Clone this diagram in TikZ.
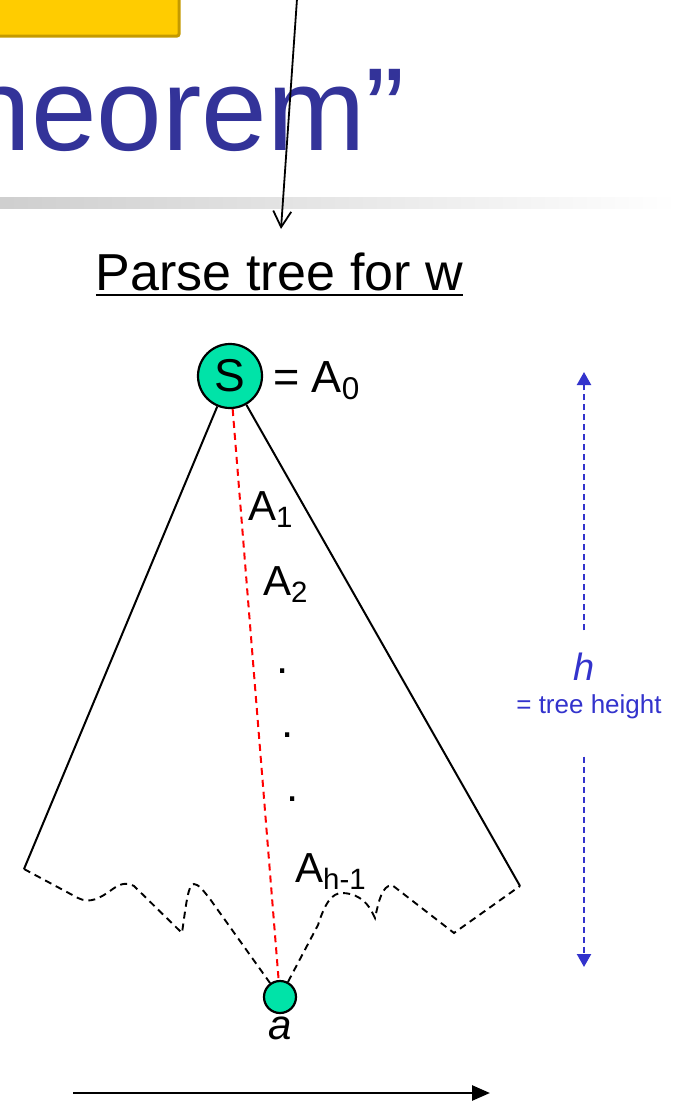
\documentclass[tikz,border=0pt]{standalone}
\usepackage{fontspec}
\setmainfont{Liberation Sans}
\usepackage{tikz}
\usetikzlibrary{arrows.meta,positioning,calc}
\definecolor{slideyellow}{HTML}{FFCC00}
\definecolor{slidegold}{HTML}{C49A00}
\definecolor{titleblue}{HTML}{333399}
\definecolor{nodegreen}{HTML}{00E3A8}
\definecolor{heightblue}{HTML}{3333CC}
\newcommand{\fsz}[1]{\fontsize{#1}{#1}\selectfont}
\newcommand{\lowsub}[1]{\raisebox{-0.17em}{\scalebox{0.7}{#1}}}

\begin{document}
\begin{tikzpicture}[x=1pt,y=-1pt,
  treenode/.style={circle,draw,fill=nodegreen,line width=2.2pt,inner sep=0pt},
  lbl/.style={inner sep=0pt,anchor=base west,font=\fsz{42}},
  treeline/.style={line width=2pt},
  fringe/.style={line width=1.9pt,dash pattern=on 7pt off 5pt},
  hdim/.style={heightblue,line width=2.2pt,dash pattern=on 6pt off 4pt,-{Triangle[length=13pt,width=14pt]}}]
  \useasboundingbox (0,0) rectangle (677,1103);
  \clip (0,0) rectangle (677,1103);

  % slide header
  \shade[left color=black!19,right color=white] (0,197) rectangle (677,208);
  \draw[fill=slideyellow,draw=slidegold,line width=3pt,rounded corners=2pt] (-10,-10) rectangle (179,36);
  \node[anchor=base east,inner sep=0pt,font=\fsz{118},text=titleblue] (title) at (405,150) {Theorem”};
  \coordinate (ptop) at (297,-1);
  \coordinate (ptip) at (281,229);
  \draw[line width=1.8pt,-{Straight Barb[length=16pt,width=18pt,line width=1.8pt]}] (ptop) -- (ptip);

  % heading
  \node[anchor=base,inner sep=0pt,font=\fsz{52}] (heading) at (279.5,290) {Parse tree for w};
  \draw[line width=2.8pt] ([yshift=-5pt]heading.base west) -- ([yshift=-5pt]heading.base east);

  % tree
  \node[treenode,minimum size=64pt,font=\fsz{46}] (S) at (230,376) {S};
  \node[inner sep=0pt,anchor=base west,font=\fsz{45}] (a0) at (273,392) {= A\lowsub{0}};
  \node[treenode,minimum size=32pt] (a) at (280,997) {};
  \node[inner sep=0pt,font=\fsz{42}\itshape,below=3pt of a] (alabel) {a};
  \coordinate (lbase) at (24,869);
  \coordinate (rbase) at (520,886);

  \draw[treeline] (S) -- (lbase);
  \draw[treeline] (S) -- (rbase);
  \draw[red,line width=2pt,dash pattern=on 7pt off 5pt] (S) -- (a);

  % ragged fringe
  \draw[fringe] (lbase) -- (78,898) .. controls (90,904) and (100,898) .. (110,891)
    .. controls (118,885) and (125,881) .. (134,886) -- (182,933)
    .. controls (186,905) and (188,884) .. (194,884)
    .. controls (198,884) and (203,890) .. (210,899) -- (a);
  \draw[fringe] (a) -- (318,925) .. controls (325,903) and (332,893) .. (342,893)
    .. controls (355,893) and (366,900) .. (372,912) -- (375,918)
    .. controls (379,900) and (382,886) .. (392,885) -- (454,933) -- (rbase);

  % path labels
  \node[lbl] (A1) at (248,520) {A\lowsub{1}};
  \node[lbl] (A2) at (263,595) {A\lowsub{2}};
  \node[inner sep=0pt,font=\fsz{44}] (dot1) at (283,671) {.};
  \node[inner sep=0pt,font=\fsz{44}] (dot2) at (288,735) {.};
  \node[inner sep=0pt,font=\fsz{44}] (dot3) at (293,799) {.};
  \node[lbl] (Ah) at (295,882) {A\lowsub{h-1}};

  % height
  \coordinate (htop) at (584,372);
  \coordinate (hbot) at (584,967);
  \node[anchor=base,inner sep=0pt,font=\fsz{38}\itshape,text=heightblue] (hsym) at (584,680) {h};
  \node[anchor=base,inner sep=0pt,font=\fsz{26},text=heightblue] (hnote) at (589,713) {= tree height};
  \draw[hdim] ([yshift=22pt]hsym.north) -- (htop);
  \draw[hdim] ([yshift=-38pt,xshift=-5pt]hnote.south) -- (hbot);

  % string w
  \coordinate (wleft) at (73,1093);
  \coordinate (wright) at (490,1093);
  \draw[line width=2.6pt,-{Triangle[length=18pt,width=15pt]}] (wleft) -- (wright);
\end{tikzpicture}
\end{document}
